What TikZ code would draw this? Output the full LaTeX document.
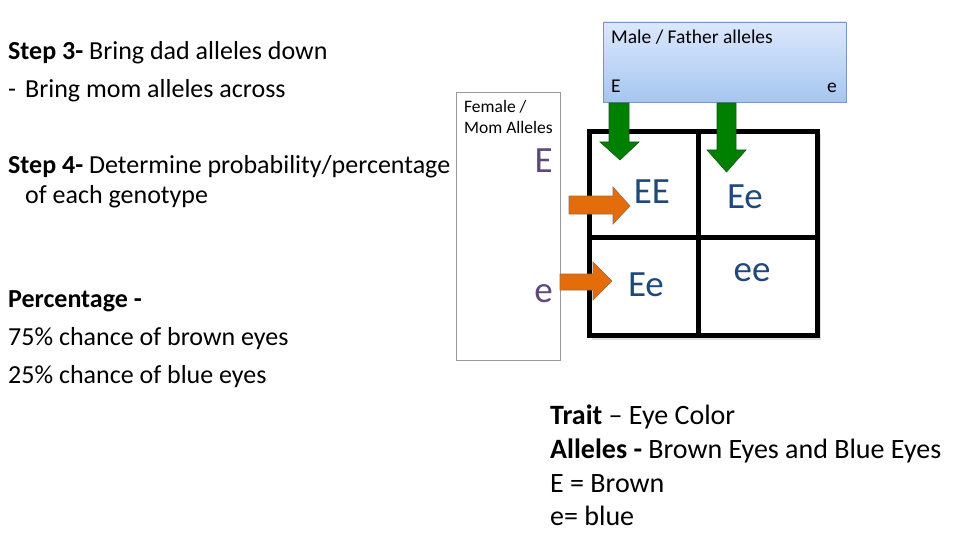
\documentclass[tikz,border=0pt]{standalone}
\usepackage{fontspec}
\setmainfont{Carlito}
\begin{document}
\begin{tikzpicture}[x=1pt,y=-1pt,
  txt/.style={anchor=base west,inner sep=0pt,font=\fontsize{26}{29}\selectfont},
  rtxt/.style={anchor=base west,inner sep=0pt,font=\fontsize{28}{31}\selectfont},
  small/.style={anchor=base west,inner sep=0pt,font=\fontsize{19.5}{22}\selectfont},
  tiny/.style={anchor=base west,inner sep=0pt,font=\fontsize{17.5}{20}\selectfont},
  mom/.style={anchor=base east,inner sep=0pt,text=momc,font=\fontsize{37}{40}\selectfont},
  geno/.style={inner sep=0pt,text=genoc,font=\fontsize{37}{40}\selectfont},
  gline/.style={line width=5pt,black},
  garrow/.style={fill=arrg,draw=arrgd,line width=0.6pt},
  oarrow/.style={fill=arro,draw=arrod,line width=0.6pt}]
\definecolor{momc}{RGB}{96,73,122}
\definecolor{genoc}{RGB}{31,73,125}
\definecolor{arrg}{RGB}{0,128,0}
\definecolor{arrgd}{RGB}{20,90,20}
\definecolor{arro}{RGB}{228,108,10}
\definecolor{arrod}{RGB}{150,110,80}
\definecolor{boxtop}{RGB}{220,232,252}
\definecolor{boxbot}{RGB}{166,198,240}
\definecolor{boxedge}{RGB}{120,150,200}
\useasboundingbox[fill=white] (0,0) rectangle (960,540);

% left texts
\node[txt] (s3) at (8,60) {\textbf{Step 3-} Bring dad alleles down};
\node[txt] (s3b) at (8,98) {-\hspace{9pt}Bring mom alleles across};
\node[txt] (s4) at (8,174) {\textbf{Step 4-} Determine probability/percentage};
\node[txt] (s4b) at (25,203) {of each genotype};
\node[txt] (pc) at (8,307) {\textbf{Percentage -}};
\node[txt] (p1) at (8,345) {75\% chance of brown eyes};
\node[txt] (p2) at (8,383) {25\% chance of blue eyes};

% female box
\draw[draw=gray!80,line width=0.8pt] (456,92) rectangle (560,360);
\node[tiny] (f1) at (464,113) {Female /};
\node[tiny] (f2) at (464,134) {Mom Alleles};
\node[mom] (mE) at (553,173) {E};
\node[mom] (me) at (553,302) {e};

% grid shadow
\fill[gray!25] (592,134) rectangle (821,340);
\fill[white] (589,132) rectangle (817,335);
\draw[gline] (589,132) rectangle (817,335);
\draw[gline] (698,132) -- (698,335);
\draw[gline] (589,237) -- (817,237);

% male box
\shade[top color=boxtop,bottom color=boxbot] (603,22) rectangle (846,102);
\draw[draw=boxedge,line width=0.8pt] (603,22) rectangle (846,102);
\node[small] (m1) at (611,44) {Male / Father alleles};
\node[small] (mE2) at (611,93) {E};
\node[small,anchor=base east] (me2) at (837,93) {e};

% green arrows
\draw[garrow] (609,103) -- (629,103) -- (629,142) -- (639,142) -- (620,160) -- (600,142) -- (609,142) -- cycle;
\draw[garrow] (717,103) -- (736,103) -- (736,150) -- (746,150) -- (726.5,172) -- (707,150) -- (717,150) -- cycle;

% orange arrows
\draw[oarrow] (569,196) -- (613,196) -- (613,187) -- (630,206) -- (613,224) -- (613,214) -- (569,214) -- cycle;
\draw[oarrow] (560,274) -- (593,274) -- (593,262) -- (612,281) -- (593,300) -- (593,290) -- (560,290) -- cycle;

% genotypes
\node[geno] (g1) at (652,192) {EE};
\node[geno] (g2) at (745,197) {Ee};
\node[geno] (g3) at (646,285) {Ee};
\node[geno] (g4) at (752,273) {ee};

% trait text
\node[rtxt] (t1) at (550,424) {\textbf{Trait} -- Eye Color};
\node[rtxt] (t2) at (550,458) {\textbf{Alleles -} Brown Eyes and Blue Eyes};
\node[rtxt] (t3) at (550,492) {E = Brown};
\node[rtxt] (t4) at (550,525) {e= blue};
\end{tikzpicture}
\end{document}
